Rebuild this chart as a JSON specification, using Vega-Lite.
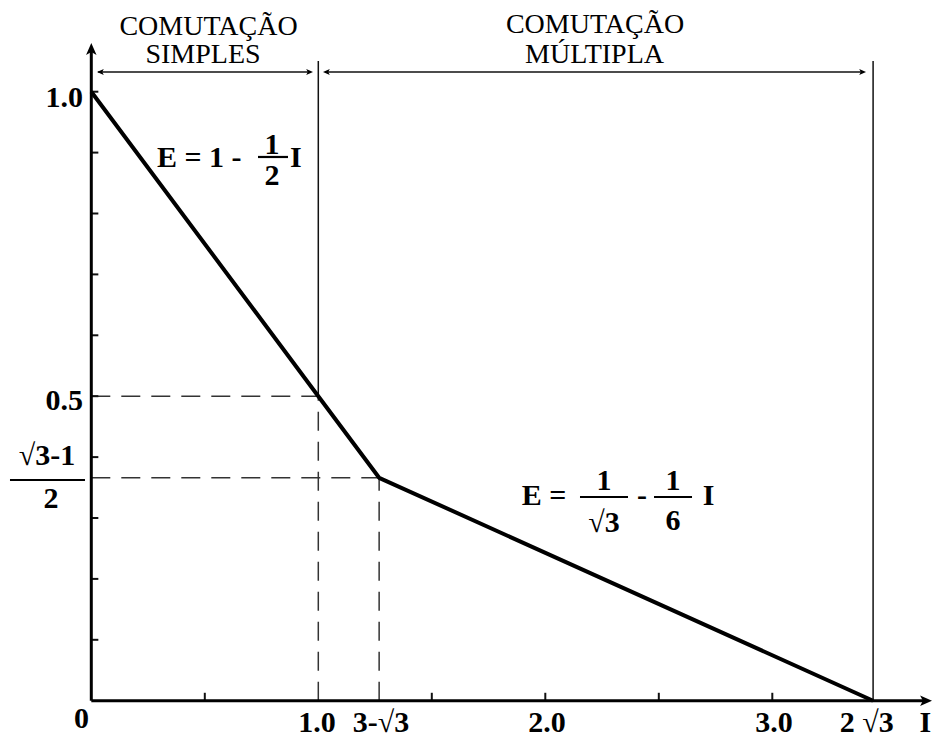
{
  "$schema": "https://vega.github.io/schema/vega-lite/v6.json",
  "width": 934,
  "height": 740,
  "padding": 0,
  "autosize": {"type": "none"},
  "background": "white",
  "config": {"view": {"stroke": null}},
  "datasets": {
    "curve": [
      {"x": 0, "y": 1.0},
      {"x": 1.0, "y": 0.5},
      {"x": 1.268, "y": 0.366},
      {"x": 3.444, "y": 0}
    ],
    "axes": [
      {"x": 0, "y": 0, "x2": 0, "y2": 1.07},
      {"x": 0, "y": 0, "x2": 3.67, "y2": 0}
    ],
    "thin": [
      {"x": 1.0, "y": 0.5, "x2": 1.0, "y2": 1.0504},
      {"x": 3.444, "y": 0, "x2": 3.444, "y2": 1.0504},
      {"x": 0.03, "y": 1.0323, "x2": 0.965, "y2": 1.0323},
      {"x": 1.03, "y": 1.0323, "x2": 3.40, "y2": 1.0323}
    ],
    "dashed": [
      {"x": 0, "y": 0.5, "x2": 1.0, "y2": 0.5},
      {"x": 0, "y": 0.366, "x2": 1.268, "y2": 0.366},
      {"x": 1.0, "y": 0, "x2": 1.0, "y2": 0.5},
      {"x": 1.268, "y": 0, "x2": 1.268, "y2": 0.366}
    ],
    "ticks": [
      {"x": 0, "y": 0.1, "x2": 0.031, "y2": 0.1},
      {"x": 0, "y": 0.2, "x2": 0.031, "y2": 0.2},
      {"x": 0, "y": 0.3, "x2": 0.031, "y2": 0.3},
      {"x": 0, "y": 0.4, "x2": 0.031, "y2": 0.4},
      {"x": 0, "y": 0.5, "x2": 0.031, "y2": 0.5},
      {"x": 0, "y": 0.6, "x2": 0.031, "y2": 0.6},
      {"x": 0, "y": 0.7, "x2": 0.031, "y2": 0.7},
      {"x": 0, "y": 0.8, "x2": 0.031, "y2": 0.8},
      {"x": 0, "y": 0.9, "x2": 0.031, "y2": 0.9},
      {"x": 0, "y": 1.0, "x2": 0.031, "y2": 1.0},
      {"x": 0.5, "y": 0, "x2": 0.5, "y2": 0.013},
      {"x": 1.5, "y": 0, "x2": 1.5, "y2": 0.013},
      {"x": 2.0, "y": 0, "x2": 2.0, "y2": 0.013},
      {"x": 2.5, "y": 0, "x2": 2.5, "y2": 0.013},
      {"x": 3.0, "y": 0, "x2": 3.0, "y2": 0.013}
    ],
    "bars": [
      {"x": -0.3582, "y": 0.3624, "x2": -0.0278, "y2": 0.3624},
      {"x": 0.7344, "y": 0.8928, "x2": 0.8665, "y2": 0.8928},
      {"x": 2.1528, "y": 0.3345, "x2": 2.3643, "y2": 0.3345},
      {"x": 2.4789, "y": 0.3345, "x2": 2.6463, "y2": 0.3345}
    ],
    "headUp": [{"x": 0, "y": 1.0685}],
    "headRightBig": [{"x": 3.6727, "y": 0}],
    "headRight": [{"x": 0.959, "y": 1.0323}, {"x": 3.3952, "y": 1.0323}],
    "headLeft": [{"x": 0.0427, "y": 1.0323}, {"x": 1.0383, "y": 1.0323}],
    "titles": [
      {"x": 0.5163, "y": 1.0931, "t": "COMUTAÇÃO"},
      {"x": 0.492, "y": 1.0471, "t": "SIMPLES"},
      {"x": 2.2189, "y": 1.0964, "t": "COMUTAÇÃO"},
      {"x": 2.2167, "y": 1.0471, "t": "MÚLTIPLA"}
    ],
    "ylabels": [
      {"x": -0.0366, "y": 0.9749, "t": "1.0"},
      {"x": -0.0366, "y": 0.4773, "t": "0.5"}
    ],
    "centered": [
      {"x": -0.1952, "y": 0.3867, "t": "√3-1"},
      {"x": -0.1775, "y": 0.3164, "t": "2"},
      {"x": -0.0432, "y": -0.0448, "t": "0"},
      {"x": 0.9943, "y": -0.0514, "t": "1.0"},
      {"x": 1.276, "y": -0.0514, "t": "3-√3"},
      {"x": 2.0075, "y": -0.0514, "t": "2.0"},
      {"x": 3.0075, "y": -0.0514, "t": "3.0"},
      {"x": 3.416, "y": -0.0514, "t": "2 √3"},
      {"x": 3.674, "y": -0.0514, "t": "I"},
      {"x": 0.796, "y": 0.8978, "t": "1"},
      {"x": 0.796, "y": 0.8468, "t": "2"},
      {"x": 2.2586, "y": 0.346, "t": "1"},
      {"x": 2.2586, "y": 0.277, "t": "√3"},
      {"x": 2.4256, "y": 0.3213, "t": "-"},
      {"x": 2.5626, "y": 0.346, "t": "1"},
      {"x": 2.5626, "y": 0.2803, "t": "6"}
    ],
    "lefttext": [
      {"x": 0.2894, "y": 0.8764, "t": "E = 1 -"},
      {"x": 0.8753, "y": 0.8764, "t": "I"},
      {"x": 1.8965, "y": 0.3213, "t": "E ="},
      {"x": 2.6938, "y": 0.3213, "t": "I"}
    ]
  },
  "encoding": {
    "x": {"field": "x", "type": "quantitative", "scale": {"domain": [-0.4022, 3.7123], "nice": false, "zero": false}, "axis": null},
    "y": {"field": "y", "type": "quantitative", "scale": {"domain": [-0.06453, 1.15057], "nice": false, "zero": false}, "axis": null}
  },
  "layer": [
    {"data": {"name": "dashed"}, "mark": {"type": "rule", "strokeDash": [19, 11], "strokeWidth": 1.5, "color": "#333333"}, "encoding": {"x2": {"field": "x2"}, "y2": {"field": "y2"}}},
    {"data": {"name": "thin"}, "mark": {"type": "rule", "strokeWidth": 1.5, "color": "#111111"}, "encoding": {"x2": {"field": "x2"}, "y2": {"field": "y2"}}},
    {"data": {"name": "ticks"}, "mark": {"type": "rule", "strokeWidth": 2, "color": "#111111"}, "encoding": {"x2": {"field": "x2"}, "y2": {"field": "y2"}}},
    {"data": {"name": "axes"}, "mark": {"type": "rule", "strokeWidth": 3, "color": "#000000"}, "encoding": {"x2": {"field": "x2"}, "y2": {"field": "y2"}}},
    {"data": {"name": "curve"}, "mark": {"type": "line", "strokeWidth": 4, "color": "#000000", "strokeJoin": "round"}},
    {"data": {"name": "bars"}, "mark": {"type": "rule", "strokeWidth": 2.2, "color": "#000000"}, "encoding": {"x2": {"field": "x2"}, "y2": {"field": "y2"}}},
    {"data": {"name": "headUp"}, "mark": {"type": "point", "shape": "M0,-1L0.75,0.7L0,0.3L-0.75,0.7Z", "filled": true, "size": 196, "color": "#000000", "opacity": 1, "strokeWidth": 0}},
    {"data": {"name": "headRightBig"}, "mark": {"type": "point", "shape": "M0,-1L0.75,0.7L0,0.3L-0.75,0.7Z", "filled": true, "size": 196, "angle": 90, "color": "#000000", "opacity": 1, "strokeWidth": 0}},
    {"data": {"name": "headRight"}, "mark": {"type": "point", "shape": "M0,-1L0.75,0.7L0,0.3L-0.75,0.7Z", "filled": true, "size": 64, "angle": 90, "color": "#000000", "opacity": 1, "strokeWidth": 0}},
    {"data": {"name": "headLeft"}, "mark": {"type": "point", "shape": "M0,-1L0.75,0.7L0,0.3L-0.75,0.7Z", "filled": true, "size": 64, "angle": 270, "color": "#000000", "opacity": 1, "strokeWidth": 0}},
    {"data": {"name": "titles"}, "mark": {"type": "text", "font": "Liberation Serif, Times New Roman, serif", "fontSize": 28, "align": "center", "baseline": "alphabetic", "color": "#000000"}, "encoding": {"text": {"field": "t"}}},
    {"data": {"name": "ylabels"}, "mark": {"type": "text", "font": "Liberation Serif, Times New Roman, serif", "fontWeight": "bold", "fontSize": 30, "align": "right", "baseline": "alphabetic", "color": "#000000"}, "encoding": {"text": {"field": "t"}}},
    {"data": {"name": "centered"}, "mark": {"type": "text", "font": "Liberation Serif, Times New Roman, serif", "fontWeight": "bold", "fontSize": 30, "align": "center", "baseline": "alphabetic", "color": "#000000"}, "encoding": {"text": {"field": "t"}}},
    {"data": {"name": "lefttext"}, "mark": {"type": "text", "font": "Liberation Serif, Times New Roman, serif", "fontWeight": "bold", "fontSize": 30, "align": "left", "baseline": "alphabetic", "color": "#000000"}, "encoding": {"text": {"field": "t"}}}
  ]
}
